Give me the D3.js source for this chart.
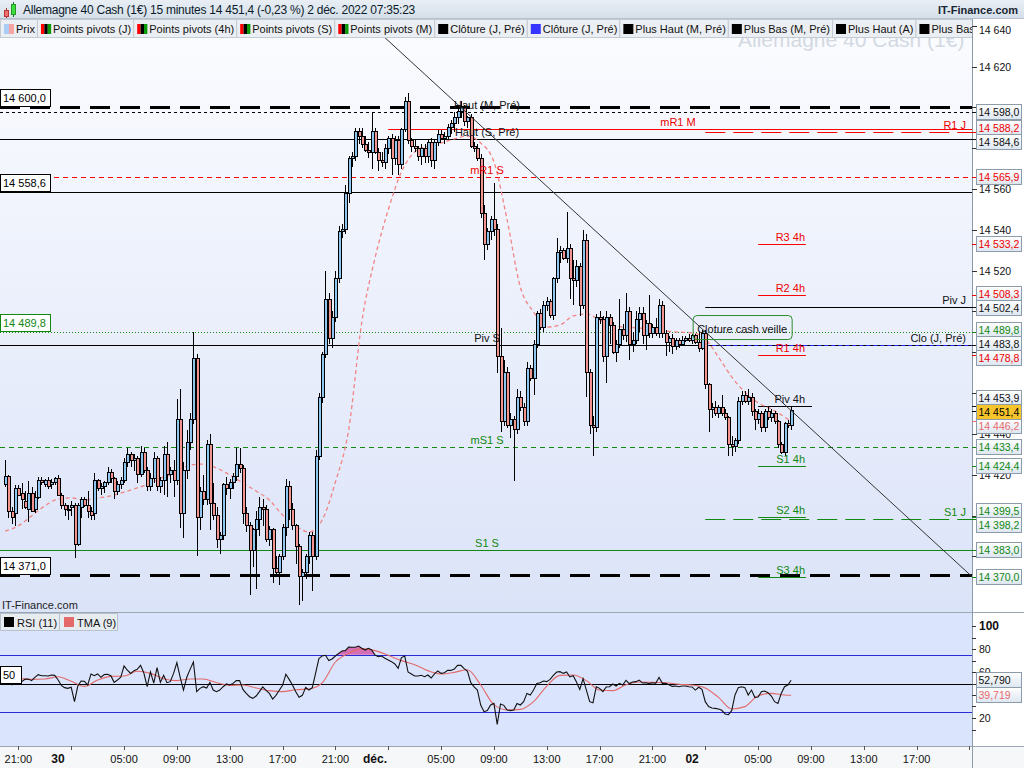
<!DOCTYPE html>
<html lang="fr">
<head>
<meta charset="utf-8">
<title>Allemagne 40 Cash (1€) 15 minutes</title>
<script src="https://cdn.jsdelivr.net/npm/d3@7/dist/d3.min.js"></script>
<style>
  html, body { margin: 0; padding: 0; background: #fff; }
  svg { display: block; font-family: "Liberation Sans", Arial, sans-serif; }
</style>
</head>
<body>
<svg id="chart" width="1024" height="768"></svg>
<script>
// first 15 min bar : 29 nov 20:00 (times are the ones shown on the axis)
const firstBar = Date.UTC(2022, 10, 29, 20, 0);
const barMinutes = 15;

// [open, high, low, close]
const candles = [
  [14415,14427,14414,14419],[14419,14420,14399,14402],[14402,14404,14396,14399],[14401,14415,14395,14413],[14413,14415,14410,14410],
  [14411,14416,14403,14408],[14407,14412,14403,14404],[14403,14417,14397,14411],[14411,14414,14402,14402],[14403,14412,14401,14409],
  [14409,14419,14408,14417],[14417,14419,14415,14416],[14415,14418,14414,14417],[14417,14419,14413,14414],[14415,14418,14413,14416],
  [14416,14419,14415,14418],[14418,14420,14410,14410],[14410,14411,14403,14405],[14405,14406,14400,14403],[14403,14405,14398,14403],
  [14404,14407,14400,14405],[14405,14406,14379,14386],[14386,14406,14385,14405],[14404,14409,14399,14408],[14408,14409,14404,14405],
  [14405,14412,14399,14402],[14402,14404,14398,14400],[14401,14421,14398,14417],[14417,14418,14412,14413],[14413,14416,14410,14414],
  [14414,14417,14411,14416],[14416,14424,14415,14421],[14421,14423,14416,14418],[14418,14419,14408,14412],[14412,14417,14410,14415],
  [14415,14419,14413,14417],[14417,14428,14416,14426],[14426,14433,14424,14430],[14430,14431,14424,14427],[14427,14430,14422,14428],
  [14428,14429,14416,14420],[14420,14434,14419,14431],[14431,14433,14421,14422],[14422,14424,14412,14414],[14414,14421,14412,14418],
  [14418,14431,14416,14428],[14428,14429,14412,14414],[14414,14419,14411,14417],[14417,14434,14410,14430],[14430,14436,14409,14420],
  [14420,14424,14416,14422],[14422,14427,14409,14417],[14417,14457,14415,14447],[14447,14462,14394,14401],[14401,14426,14389,14422],
  [14422,14442,14418,14436],[14436,14450,14432,14447],[14447,14490,14445,14477],[14477,14479,14380,14399],[14399,14414,14393,14412],
  [14412,14420,14405,14408],[14408,14437,14405,14435],[14435,14440,14393,14406],[14406,14416,14398,14400],[14400,14404,14384,14388],
  [14388,14392,14381,14390],[14390,14416,14388,14415],[14415,14419,14410,14413],[14413,14418,14408,14416],[14416,14421,14413,14419],
  [14419,14433,14417,14425],[14425,14433,14421,14423],[14423,14425,14396,14401],[14401,14404,14392,14395],[14395,14397,14361,14383],
  [14383,14394,14375,14393],[14393,14402,14364,14398],[14398,14409,14390,14404],[14404,14408,14395,14403],[14403,14405,14387,14388],
  [14388,14395,14385,14393],[14393,14394,14367,14374],[14374,14380,14370,14372],[14372,14381,14366,14380],[14380,14396,14378,14394],
  [14394,14418,14390,14414],[14414,14417,14398,14403],[14403,14406,14393,14395],[14395,14396,14376,14385],[14385,14386,14356,14370],
  [14370,14374,14358,14372],[14372,14381,14369,14380],[14380,14392,14376,14390],[14390,14392,14363,14380],[14380,14432,14378,14429],
  [14429,14460,14427,14458],[14458,14480,14455,14479],[14479,14520,14477,14506],[14506,14509,14484,14487],[14487,14500,14482,14497],
  [14497,14520,14495,14516],[14516,14542,14514,14539],[14539,14543,14536,14540],[14540,14562,14538,14558],[14558,14576,14553,14575],
  [14575,14578,14571,14576],[14576,14590,14574,14588],[14588,14590,14582,14586],[14586,14590,14580,14582],[14582,14586,14578,14579],
  [14579,14583,14575,14578],[14578,14598,14570,14588],[14588,14590,14577,14578],[14578,14580,14569,14574],[14574,14578,14571,14573],
  [14573,14582,14570,14580],[14580,14586,14577,14585],[14585,14587,14567,14575],[14575,14586,14572,14584],[14584,14586,14567,14572],
  [14572,14590,14570,14589],[14589,14605,14588,14603],[14603,14607,14582,14584],[14584,14585,14578,14581],[14581,14584,14578,14580],
  [14580,14581,14574,14576],[14576,14582,14572,14580],[14580,14582,14573,14576],[14576,14584,14573,14583],[14583,14585,14571,14574],
  [14574,14584,14570,14583],[14583,14589,14581,14587],[14587,14589,14584,14585],[14585,14588,14582,14586],[14586,14592,14584,14590],
  [14590,14594,14587,14592],[14592,14598,14588,14595],[14595,14600,14592,14598],[14598,14603,14595,14600],[14600,14601,14591,14593],
  [14593,14596,14590,14595],[14595,14597,14580,14581],[14581,14583,14578,14580],[14580,14582,14574,14575],[14575,14577,14546,14548],
  [14548,14552,14525,14533],[14533,14541,14530,14539],[14539,14547,14535,14545],[14545,14563,14537,14540],[14540,14543,14470,14478],
  [14478,14492,14441,14446],[14446,14476,14444,14470],[14470,14473,14443,14444],[14444,14450,14438,14447],[14447,14449,14417,14442],
  [14442,14462,14440,14458],[14458,14461,14451,14453],[14453,14455,14444,14446],[14446,14475,14444,14472],[14472,14474,14466,14467],
  [14467,14486,14459,14484],[14484,14500,14482,14499],[14499,14501,14491,14492],[14492,14505,14490,14503],[14503,14507,14500,14505],
  [14505,14506,14497,14498],[14498,14517,14496,14516],[14516,14536,14514,14529],[14529,14532,14524,14530],[14530,14531,14525,14526],
  [14526,14549,14524,14531],[14531,14533,14506,14516],[14516,14525,14503,14515],[14515,14525,14512,14522],[14522,14524,14498,14503],
  [14503,14540,14501,14535],[14535,14538,14458,14470],[14470,14472,14440,14444],[14444,14449,14429,14443],[14443,14499,14441,14497],
  [14497,14500,14494,14496],[14496,14498,14475,14478],[14478,14500,14465,14497],[14497,14499,14484,14493],[14493,14495,14479,14480],
  [14480,14486,14475,14484],[14484,14506,14482,14491],[14491,14494,14486,14488],[14488,14509,14485,14500],[14500,14502,14476,14484],
  [14484,14490,14480,14486],[14486,14500,14484,14496],[14496,14502,14490,14499],[14499,14502,14484,14488],[14488,14496,14481,14494],
  [14494,14508,14487,14489],[14489,14494,14487,14492],[14492,14497,14488,14489],[14489,14506,14487,14503],[14503,14505,14487,14489],
  [14489,14491,14478,14485],[14485,14488,14480,14487],[14487,14489,14479,14483],[14483,14487,14481,14486],[14486,14487,14482,14484],
  [14484,14488,14483,14486],[14486,14488,14485,14487],[14487,14489,14485,14486],[14486,14489,14484,14488],[14488,14489,14484,14485],
  [14485,14490,14480,14482],[14482,14491,14481,14489],[14489,14491,14462,14464],[14464,14465,14441,14452],[14452,14455,14448,14453],
  [14453,14456,14449,14450],[14450,14454,14448,14453],[14453,14459,14449,14450],[14450,14452,14447,14448],[14448,14449,14429,14435],
  [14435,14439,14429,14434],[14434,14438,14431,14437],[14437,14458,14435,14456],[14456,14461,14454,14459],[14459,14461,14455,14456],
  [14456,14462,14454,14458],[14458,14460,14449,14451],[14451,14452,14442,14447],[14447,14452,14445,14450],[14450,14451,14441,14443],
  [14443,14452,14441,14451],[14451,14453,14447,14448],[14448,14452,14446,14450],[14450,14451,14445,14446],[14446,14447,14433,14435],
  [14435,14436,14430,14431],[14431,14446,14429,14445],[14445,14447,14443,14444],[14444,14453,14442,14451.4]
];

// RSI (11), one value per bar
const rsiValues = [
  53.5,50.2,48.8,53.0,52.1,51.6,53.6,53.9,52.5,55.4,
  57.7,56.8,56.8,56.5,57.4,57.1,53.3,48.4,46.4,45.8,
  46.7,34.2,47.8,52.2,51.9,48.7,58.3,56.8,58.3,55.4,
  57.7,58.0,56.8,51.0,53.0,55.4,65.2,61.7,58.8,61.2,
  62.3,65.8,59.1,47.2,60.0,50.4,63.8,51.0,57.1,50.7,
  51.6,58.8,68.1,55.4,44.3,55.4,62.3,68.7,42.9,45.8,
  47.2,46.1,51.0,44.3,42.9,44.3,47.2,49.6,48.7,50.1,
  52.5,52.5,44.9,41.4,38.5,37.1,39.1,42.9,47.0,44.1,
  41.4,36.5,39.7,44.1,48.4,58.0,53.6,48.7,42.9,38.0,
  39.7,46.7,44.3,46.4,58.8,71.6,74.0,74.5,69.9,71.3,
  73.9,76.2,78.3,78.6,81.7,81.5,81.5,82.6,80.6,79.1,
  80.6,79.1,74.8,73.3,73.9,71.9,70.4,69.0,67.0,63.2,
  72.5,73.9,60.0,58.3,56.5,56.5,57.1,55.9,57.4,54.8,
  58.3,60.9,58.8,59.4,61.4,61.4,62.6,65.8,65.8,62.9,
  60.6,50.7,47.0,44.3,31.3,25.5,26.4,31.3,32.7,14.5,
  32.2,31.0,27.0,26.4,27.0,32.7,31.3,34.2,41.4,40.0,
  44.3,50.1,50.7,52.2,51.6,53.6,57.1,60.0,60.3,58.8,
  60.0,55.7,56.8,51.3,44.9,54.2,44.3,34.2,33.3,47.2,
  45.8,42.9,47.0,47.2,49.6,47.8,50.1,48.7,52.8,49.9,
  51.3,51.6,53.0,50.4,50.7,49.9,50.7,50.1,55.4,50.1,
  50.1,49.0,47.5,47.8,47.2,47.8,47.8,47.2,47.0,44.3,
  46.7,44.9,34.2,29.9,28.7,28.4,27.8,26.7,23.5,22.9,
  26.4,40.0,46.4,47.2,46.4,40.0,44.3,38.0,38.3,42.9,
  43.5,42.0,39.1,34.2,32.7,41.4,47.2,48.7,52.79
];

// smoothed curves read every hour (bars 0, 4, 8 ... 236 and the last bar 238)
const curveBars = d3.range(0, 237, 4).concat([238]);
const rsiTmaValues = [
  54.5,54.5,53.6,53.9,55.9,51.9,47.5,53.0,56.2,56.5,
  60.6,58.8,54.2,52.5,53.9,53.9,50.7,48.4,48.7,46.1,
  43.8,42.9,44.6,45.2,50.5,68.7,76.2,80.3,78.6,74.5,
  69.9,66.4,61.2,58.3,59.7,62.0,48.7,31.6,27.0,27.5,
  34.2,47.8,57.1,57.4,52.5,44.3,43.8,49.0,51.3,51.0,
  50.7,49.3,48.7,46.1,37.9,27.8,29.9,39.4,41.4,40.0,
  39.719
];
const priceTmaValues = [
  14392.4,14394.9,14399.8,14404.7,14408.1,14408.6,14407.6,14408.6,14409.6,14411.5,
  14413.5,14415.9,14418.9,14420.8,14424.8,14425.2,14423.3,14419.9,14415.9,14412.0,
  14407.6,14400.2,14394.9,14391.9,14397.8,14416.4,14441.9,14494.9,14526.2,14549.8,
  14568.4,14578.2,14581.1,14582.6,14584.6,14586.0,14582.6,14573.3,14544.9,14512.0,
  14499.8,14492.4,14493.4,14497.8,14498.8,14495.9,14492.9,14492.4,14491.9,14491.4,
  14490.4,14489.9,14489.5,14486.5,14477.7,14467.9,14460.5,14455.2,14452.2,14448.3,
  14446.2
];

// horizontal levels
const levelValues = [14600.0, 14598.0, 14589.5, 14588.2, 14584.6, 14565.9, 14558.6, 14533.2, 14508.3, 14502.4,
  14489.8, 14483.8, 14483.8, 14478.8, 14453.9, 14433.4, 14424.4, 14399.5, 14398.2, 14383.0, 14371.0, 14370.0];
const levelNames = ["Haut (M, Pré)", "", "mR1 M", "R1 J", "Haut (S, Pré)", "mR1 S", "", "R3 4h", "R2 4h", "Piv J",
  "", "Piv S", "Clo (J, Pré)", "R1 4h", "Piv 4h", "mS1 S", "S1 4h", "S2 4h", "S1 J", "S1 S", "", "S3 4h"];
const levelKinds = ["hlM", "highA", "mR", "jR", "sHL", "sR", "plain", "h4R", "h4R", "jPiv",
  "dotG", "sPiv", "jClo", "h4R", "h4Piv", "sS", "h4S", "h4S", "jS", "sSup", "hlM", "h4S"];

const periodStart = {
  month: Date.UTC(2022, 11, 1, 1, 0),
  day: Date.UTC(2022, 11, 2, 1, 0),
  h4: Date.UTC(2022, 11, 2, 5, 0)
};
const h4End = Date.UTC(2022, 11, 2, 8, 37);
const h4PivEnd = Date.UTC(2022, 11, 2, 9, 5);

// trend line : [bar index, price]
const trendLine = [[109.9, 14641.8], [292.8, 14370.0]];

const lastPrice = 14451.4;
const lastPriceTma = 14446.2;
const lastRsi = 52.790;
const lastRsiTma = 39.719;

const legendNames = ["Prix", "Points pivots (J)", "Points pivots (4h)", "Points pivots (S)", "Points pivots (M)",
  "Clôture (J, Pré)", "Clôture (J, Pré)", "Plus Haut (M, Pré)", "Plus Bas (M, Pré)", "Plus Haut (A)", "Plus Bas"];
const legendIcons = ["prix", "piv", "piv", "piv", "piv", "black", "blue", "black", "black", "black", "black"];

const dayLabels = ["30", "déc.", "02"];
const dayDates = [Date.UTC(2022, 10, 30), Date.UTC(2022, 11, 1), Date.UTC(2022, 11, 2)];
const priceTicks = d3.range(14380, 14641, 20);
const rsiTicks = [20, 40, 60, 80, 100];

const titleText = "Allemagne 40 Cash (1€) 15 minutes 14 451,4 (-0,23 %) 2 déc. 2022 07:35:23";

// ---------------------------------------------------------------
const W = 1024, H = 768;
const plotRight = 972;
const priceTop = 19, priceBottom = 612, rsiBottom = 746;

const RED = "#ff0000", GREEN = "#118811", UP = "#8fc6f0", DOWN = "#f29490";

const locale = d3.formatLocale({ decimal: ",", thousands: " ", grouping: [3], currency: ["", "€"] });
const fmtPrice = locale.format(",.1f");
const fmtTick = locale.format(",d");
const fmtRsi = locale.format(".3f");

const barTime = i => new Date(firstBar + i * barMinutes * 60000);

const x = d3.scaleUtc()
  .domain([new Date(Date.UTC(2022, 10, 29, 19, 36, 36)), new Date(Date.UTC(2022, 11, 2, 21, 11, 30))])
  .range([0, plotRight]);
const y = d3.scaleLinear().domain([14352.7, 14641.9]).range([612, 22]);
const yR = d3.scaleLinear().domain([0, 100]).range([741, 626]);
const barX = i => x(barTime(i));

const svg = d3.select("#chart");
const defs = svg.append("defs");

function vGrad(id, c1, c2) {
  const g = defs.append("linearGradient").attr("id", id).attr("x1", 0).attr("y1", 0).attr("x2", 0).attr("y2", 1);
  g.append("stop").attr("offset", "0%").attr("stop-color", c1);
  g.append("stop").attr("offset", "100%").attr("stop-color", c2);
}
vGrad("bgPrice", "#fbfcff", "#dbe3f8");
vGrad("boxFill", "#ffffff", "#dde6f0");
vGrad("titleFill", "#e8eef4", "#d5dfe9");

defs.append("clipPath").attr("id", "clipPrice").append("rect")
  .attr("x", 0).attr("y", priceTop).attr("width", plotRight).attr("height", priceBottom - priceTop);
defs.append("clipPath").attr("id", "clipRsi").append("rect")
  .attr("x", 0).attr("y", priceBottom).attr("width", plotRight).attr("height", rsiBottom - priceBottom);
defs.append("clipPath").attr("id", "clipLegend").append("rect")
  .attr("x", 0).attr("y", 0).attr("width", plotRight).attr("height", 40);

// backgrounds
svg.append("rect").attr("width", W).attr("height", H).attr("fill", "#fff");
svg.append("rect").attr("x", 0).attr("y", priceTop).attr("width", plotRight).attr("height", priceBottom - priceTop)
  .attr("fill", "url(#bgPrice)");
svg.append("rect").attr("x", 0).attr("y", priceBottom).attr("width", plotRight).attr("height", rsiBottom - priceBottom)
  .attr("fill", "#dae4fc");
svg.append("rect").attr("x", 0).attr("y", rsiBottom).attr("width", W).attr("height", H - rsiBottom).attr("fill", "#f6f7f9");

// watermark
svg.append("text").attr("x", 738).attr("y", 47).attr("font-size", 21).attr("fill", "#d3d9e2")
  .text("Allemagne 40 Cash (1€)");

// ---------- price panel ----------
const gPrice = svg.append("g").attr("clip-path", "url(#clipPrice)");

const levelStyle = {
  hlM:   { color: "#000", width: 3, dash: "20,10", from: "full", leftBox: true, label: "week", dy: 2 },
  highA: { color: "#000", width: 1, dash: "3,3", from: "full", rightBox: true },
  mR:    { color: RED, width: 1, from: "month", label: "month" },
  jR:    { color: RED, width: 1, dash: "20,8", from: "day", rightBox: true, label: "day" },
  sHL:   { color: "#000", width: 1, from: "full", rightBox: true, label: "week" },
  sR:    { color: RED, width: 1, dash: "5,4", from: "full", rightBox: true, label: "week" },
  plain: { color: "#000", width: 1, from: "full", leftBox: true },
  h4R:   { color: RED, width: 1, from: "h4", to: h4End, rightBox: true, label: "h4" },
  jPiv:  { color: "#000", width: 1, from: "day", rightBox: true, label: "day" },
  dotG:  { color: GREEN, width: 1, dash: "1,2", from: "full", leftBox: true, rightBox: true },
  sPiv:  { color: "#000", width: 1, from: "full", rightBox: true, label: "week" },
  jClo:  { color: "#2626ff", width: 1, dash: "4,3", from: "day", label: "day" },
  h4Piv: { color: "#000", width: 1, from: "h4", to: h4PivEnd, rightBox: true, label: "h4" },
  sS:    { color: GREEN, width: 1, dash: "5,4", from: "full", rightBox: true, label: "week" },
  h4S:   { color: GREEN, width: 1, from: "h4", to: h4End, rightBox: true, label: "h4" },
  jS:    { color: GREEN, width: 1, dash: "20,8", from: "day", rightBox: true, label: "day" },
  sSup:  { color: GREEN, width: 1, from: "full", rightBox: true, label: "week" }
};
const labelPlace = {
  week: { x: 487, anchor: "middle" },
  month: { x: 678, anchor: "middle" },
  day: { x: 966, anchor: "end" },
  h4: { x: 805, anchor: "end" }
};

const levels = levelValues.map((v, i) => {
  const st = levelStyle[levelKinds[i]];
  return { v, name: levelNames[i], st,
    x1: st.from === "full" ? 0 : x(new Date(periodStart[st.from])),
    x2: st.to ? x(new Date(st.to)) : plotRight };
});

gPrice.selectAll("line.level").data(levels).join("line")
  .attr("class", "level")
  .attr("x1", d => d.x1).attr("x2", d => d.x2)
  .attr("y1", d => Math.round(y(d.v)) + 0.5).attr("y2", d => Math.round(y(d.v)) + 0.5)
  .attr("stroke", d => d.st.color).attr("stroke-width", d => d.st.width)
  .attr("stroke-dasharray", d => d.st.dash || null);

// smoothed price curve (dashed pink)
gPrice.append("path")
  .datum(curveBars.map((b, k) => [b, priceTmaValues[k]]))
  .attr("fill", "none").attr("stroke", "#f08585").attr("stroke-width", 1.3).attr("stroke-dasharray", "4,3")
  .attr("d", d3.line().x(d => barX(d[0])).y(d => y(d[1])).curve(d3.curveMonotoneX));

// candles
const gCandle = gPrice.append("g").attr("shape-rendering", "crispEdges");
gCandle.selectAll("line.wick").data(candles).join("line")
  .attr("class", "wick")
  .attr("x1", (d, i) => Math.round(barX(i)) + 0.5).attr("x2", (d, i) => Math.round(barX(i)) + 0.5)
  .attr("y1", d => y(d[1])).attr("y2", d => y(d[2]))
  .attr("stroke", "#000").attr("stroke-width", 1);
gCandle.selectAll("rect.body").data(candles).join("rect")
  .attr("class", "body")
  .attr("x", (d, i) => Math.round(barX(i)) - 1)
  .attr("width", 3)
  .attr("y", d => y(Math.max(d[0], d[3])))
  .attr("height", d => Math.max(1, Math.abs(y(d[0]) - y(d[3]))))
  .attr("fill", d => d[3] >= d[0] ? UP : DOWN)
  .attr("stroke", "#000").attr("stroke-width", 1);

// trend line
gPrice.append("line")
  .attr("x1", barX(trendLine[0][0])).attr("y1", y(trendLine[0][1]))
  .attr("x2", barX(trendLine[1][0])).attr("y2", y(trendLine[1][1]))
  .attr("stroke", "#333").attr("stroke-width", 1);

// level labels
gPrice.selectAll("text.lvl").data(levels.filter(d => d.name && d.st.label)).join("text")
  .attr("class", "lvl")
  .attr("x", d => labelPlace[d.st.label].x)
  .attr("y", d => y(d.v) + (d.st.dy !== undefined ? d.st.dy : -3))
  .attr("text-anchor", d => labelPlace[d.st.label].anchor)
  .attr("font-size", 11)
  .attr("fill", d => d.st.color === RED ? "#ee0000" : d.st.color === GREEN ? GREEN : "#111")
  .text(d => d.name);

// left value boxes
const leftBoxes = levels.filter(d => d.st.leftBox);
const gLeft = svg.append("g");
gLeft.selectAll("rect").data(leftBoxes).join("rect")
  .attr("x", 0.5).attr("y", d => Math.round(y(d.v)) - 17.5).attr("width", 50).attr("height", 17)
  .attr("fill", "#fff").attr("stroke", d => d.st.color === GREEN ? GREEN : "#000");
gLeft.selectAll("text").data(leftBoxes).join("text")
  .attr("x", 3).attr("y", d => Math.round(y(d.v)) - 5)
  .attr("font-size", 11).attr("fill", d => d.st.color === GREEN ? GREEN : "#000")
  .text(d => fmtPrice(d.v));

// "Cloture cash veille"
const annX = x(new Date(Date.UTC(2022, 11, 2, 0, 5)));
const annY = y(14483.8) - 29;
svg.append("rect").attr("x", annX).attr("y", annY).attr("width", 99).attr("height", 24).attr("rx", 4)
  .attr("fill", "none").attr("stroke", "#2e8b2e").attr("stroke-width", 1);
svg.append("text").attr("x", annX + 4).attr("y", annY + 17).attr("font-size", 11).attr("fill", "#111")
  .text("Cloture cash veille");

svg.append("text").attr("x", 2).attr("y", 609).attr("font-size", 11).attr("fill", "#222").text("IT-Finance.com");

// ---------- RSI panel ----------
const gRsi = svg.append("g").attr("clip-path", "url(#clipRsi)");
const rsiData = rsiValues.map((v, i) => [i, v]);
gRsi.append("path").datum(rsiData)
  .attr("fill", "#d46fb6")
  .attr("d", d3.area().x(d => barX(d[0])).y0(yR(75)).y1(d => yR(Math.max(75, d[1]))));
[[75, "#2a2ad6"], [25, "#2a2ad6"], [50, "#000"]].forEach(([v, c]) => {
  gRsi.append("line").attr("x1", 0).attr("x2", plotRight)
    .attr("y1", Math.round(yR(v)) + 0.5).attr("y2", Math.round(yR(v)) + 0.5)
    .attr("stroke", c).attr("stroke-width", 1);
});
gRsi.append("path").datum(curveBars.map((b, k) => [b, rsiTmaValues[k]]))
  .attr("fill", "none").attr("stroke", "#e46a6a").attr("stroke-width", 1.1)
  .attr("d", d3.line().x(d => barX(d[0])).y(d => yR(d[1])).curve(d3.curveMonotoneX));
gRsi.append("path").datum(rsiData)
  .attr("fill", "none").attr("stroke", "#111").attr("stroke-width", 1.1)
  .attr("d", d3.line().x(d => barX(d[0])).y(d => yR(d[1])));

// "50" box
svg.append("rect").attr("x", 0.5).attr("y", Math.round(yR(50)) - 17.5).attr("width", 21).attr("height", 17)
  .attr("fill", "#fff").attr("stroke", "#000");
svg.append("text").attr("x", 3).attr("y", Math.round(yR(50)) - 5).attr("font-size", 11).text("50");

// RSI legend
const rl = svg.append("g");
rl.append("rect").attr("x", 0.5).attr("y", 613.5).attr("width", 117).attr("height", 17)
  .attr("fill", "#e7ecf1").attr("stroke", "#b9c2cc");
rl.append("line").attr("x1", 59.5).attr("x2", 59.5).attr("y1", 614).attr("y2", 630).attr("stroke", "#b9c2cc");
rl.append("rect").attr("x", 4).attr("y", 617).attr("width", 10).attr("height", 10).attr("fill", "#000");
rl.append("text").attr("x", 17).attr("y", 626.5).attr("font-size", 11).attr("fill", "#111").text("RSI (11)");
rl.append("rect").attr("x", 64).attr("y", 617).attr("width", 10).attr("height", 10).attr("fill", "#e46a6a");
rl.append("text").attr("x", 77).attr("y", 626.5).attr("font-size", 11).attr("fill", "#111").text("TMA (9)");

// panel borders
svg.append("line").attr("x1", 0).attr("x2", W).attr("y1", priceBottom + 0.5).attr("y2", priceBottom + 0.5)
  .attr("stroke", "#9aa7b4");
svg.append("line").attr("x1", 0).attr("x2", W).attr("y1", rsiBottom + 0.5).attr("y2", rsiBottom + 0.5)
  .attr("stroke", "#9aa7b4");
svg.append("line").attr("x1", plotRight + 0.5).attr("x2", plotRight + 0.5).attr("y1", priceTop).attr("y2", H)
  .attr("stroke", "#8c99a6");

// ---------- legend row & title ----------
const gLeg = svg.append("g").attr("clip-path", "url(#clipLegend)");
let lx = 0;
legendNames.forEach((name, k) => {
  const item = gLeg.append("g");
  const bg = item.append("rect").attr("x", lx + 0.5).attr("y", 19.5).attr("height", 18)
    .attr("fill", "#ebeff3").attr("stroke", "#c3cbd3");
  const ix = lx + 4, iy = 24;
  const ic = legendIcons[k];
  if (ic === "prix") {
    item.append("rect").attr("x", ix).attr("y", iy).attr("width", 5).attr("height", 10).attr("fill", "#a9cdf6");
    item.append("rect").attr("x", ix + 5).attr("y", iy).attr("width", 5).attr("height", 10).attr("fill", "#f6a3a3");
  } else if (ic === "piv") {
    ["#ff0000", "#000000", "#0a9a0a"].forEach((c, j) =>
      item.append("rect").attr("x", ix + j * 3.4).attr("y", iy).attr("width", 3.4).attr("height", 10).attr("fill", c));
  } else {
    item.append("rect").attr("x", ix).attr("y", iy).attr("width", 10).attr("height", 10)
      .attr("fill", ic === "blue" ? "#3535ff" : "#000");
  }
  const t = item.append("text").attr("x", lx + 16).attr("y", 33).attr("font-size", 11).attr("fill", "#111").text(name);
  const w = 16 + t.node().getComputedTextLength() + 2;
  bg.attr("width", w);
  lx += w;
});

svg.append("rect").attr("x", 0).attr("y", 0).attr("width", W).attr("height", 19).attr("fill", "url(#titleFill)");
svg.append("line").attr("x1", 0).attr("x2", W).attr("y1", 18.5).attr("y2", 18.5).attr("stroke", "#b5c0cb");
// small candle icon
svg.append("line").attr("x1", 6.5).attr("x2", 6.5).attr("y1", 8).attr("y2", 18).attr("stroke", "#a33");
svg.append("rect").attr("x", 4.5).attr("y", 10.5).attr("width", 4).attr("height", 6).attr("fill", "#f07070").attr("stroke", "#b33");
svg.append("line").attr("x1", 13.5).attr("x2", 13.5).attr("y1", 2).attr("y2", 17).attr("stroke", "#272");
svg.append("rect").attr("x", 11.5).attr("y", 4.5).attr("width", 4).attr("height", 10).attr("fill", "#3fdc3f").attr("stroke", "#292");
svg.append("text").attr("x", 23).attr("y", 14).attr("font-size", 12).attr("letter-spacing", -0.25)
  .attr("fill", "#0c1b2b").text(titleText);
svg.append("text").attr("x", 1018).attr("y", 14).attr("text-anchor", "end").attr("font-size", 11)
  .attr("font-weight", "bold").attr("fill", "#1a2633").text("IT-Finance.com");

// ---------- right value boxes (overlapping ones are spread around their mean) ----------
function spread(items, h) {
  items.sort((a, b) => a.y - b.y);
  let groups = items.map(d => ({ members: [d], top: d.y }));
  let merged = true;
  while (merged) {
    merged = false;
    groups.forEach(g => { g.top = d3.mean(g.members, d => d.y) - (g.members.length - 1) * h / 2; });
    for (let k = 1; k < groups.length; k++) {
      const prevEnd = groups[k - 1].top + (groups[k - 1].members.length - 1) * h;
      if (groups[k].top < prevEnd + h) {
        groups[k - 1].members = groups[k - 1].members.concat(groups[k].members);
        groups.splice(k, 1);
        merged = true;
        break;
      }
    }
  }
  groups.forEach(g => g.members.forEach((d, j) => { d.ly = g.top + j * h; }));
  return items;
}

const priceBoxes = levels.filter(d => d.st.rightBox).map(d => ({
  v: d.v, y: y(d.v), text: fmtPrice(d.v),
  color: d.st.color === RED ? "#ee0000" : d.st.color === GREEN ? GREEN : "#111", fill: "url(#boxFill)"
}));
priceBoxes.push({ v: lastPriceTma, y: y(lastPriceTma), text: fmtPrice(lastPriceTma), color: "#e86a6a", fill: "url(#boxFill)" });
priceBoxes.push({ v: lastPrice, y: y(lastPrice), text: fmtPrice(lastPrice), color: "#000", fill: "#f7c52b", top: true });
spread(priceBoxes, 14);

const rsiBoxes = [
  { v: lastRsi, ly: yR(lastRsi), text: fmtRsi(lastRsi), color: "#111", fill: "url(#boxFill)" },
  { v: lastRsiTma, ly: yR(lastRsiTma), text: fmtRsi(lastRsiTma), color: "#e86a6a", fill: "url(#boxFill)" }
];

// ---------- right axes ----------
const covered = (ty, boxes) => boxes.some(b => Math.abs(b.ly - ty) < 7.5);
const gAxis = svg.append("g").attr("font-size", 10.5).attr("fill", "#111");
priceTicks.forEach(v => {
  const ty = Math.round(y(v)) + 0.5;
  gAxis.append("line").attr("x1", plotRight).attr("x2", plotRight + 5).attr("y1", ty).attr("y2", ty).attr("stroke", "#333");
  const ly = Math.max(ty, 30);
  if (!covered(ly, priceBoxes)) {
    gAxis.append("text").attr("x", 979).attr("y", ly).attr("dy", "0.35em").text(fmtTick(v));
  }
});
d3.range(10, 101, 10).forEach(v => {
  const ty = Math.round(yR(v)) + 0.5;
  gAxis.append("line").attr("x1", plotRight).attr("x2", plotRight + 4).attr("y1", ty).attr("y2", ty).attr("stroke", "#333");
});
rsiTicks.forEach(v => {
  if (covered(yR(v), rsiBoxes)) return;
  gAxis.append("text").attr("x", 979).attr("y", yR(v)).attr("dy", "0.35em")
    .attr("font-weight", v === 100 ? "bold" : null).attr("font-size", v === 100 ? 12 : 10.5).text(v);
});

// small coloured marks on the axis at the real level
priceBoxes.forEach(b => {
  svg.append("line").attr("x1", plotRight).attr("x2", plotRight + 5)
    .attr("y1", Math.round(b.y) + 0.5).attr("y2", Math.round(b.y) + 0.5).attr("stroke", b.color);
});

function drawBox(b) {
  const g = svg.append("g");
  g.append("rect").attr("x", 976.5).attr("y", Math.round(b.ly) - 7.5).attr("width", 45).attr("height", 15)
    .attr("fill", b.fill).attr("stroke", "#8d9cab");
  g.append("text").attr("x", 978.5).attr("y", Math.round(b.ly) + 4).attr("font-size", 10.5).attr("fill", b.color).text(b.text);
}
priceBoxes.filter(b => !b.top).forEach(drawBox);
priceBoxes.filter(b => b.top).forEach(drawBox);
rsiBoxes.forEach(drawBox);

// ---------- time axis ----------
const gX = svg.append("g").attr("font-size", 11).attr("fill", "#111");
const tickHours = d3.utcHours(x.domain()[0], x.domain()[1]).filter(d => d.getUTCHours() % 4 === 1);
tickHours.forEach(d => {
  const tx = Math.round(x(d)) + 0.5;
  gX.append("line").attr("x1", tx).attr("x2", tx).attr("y1", rsiBottom).attr("y2", rsiBottom + 4).attr("stroke", "#555");
  if (d.getUTCHours() !== 1 && x(d) < 950) {
    gX.append("text").attr("x", x(d)).attr("y", 763).attr("text-anchor", "middle").text(d3.utcFormat("%H:%M")(d));
  }
});
dayLabels.forEach((lab, k) => {
  gX.append("text").attr("x", x(new Date(dayDates[k]))).attr("y", 763).attr("text-anchor", "middle")
    .attr("font-weight", "bold").attr("font-size", 12).text(lab);
});
</script>
</body>
</html>
